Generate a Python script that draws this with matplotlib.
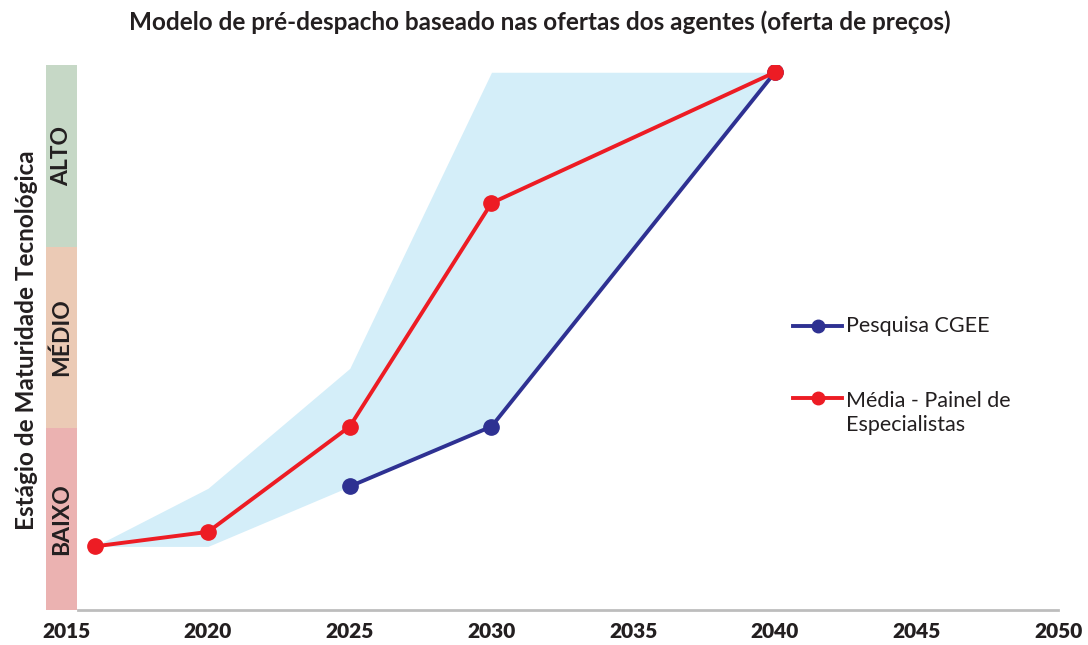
import matplotlib
matplotlib.use("Agg")
import matplotlib.pyplot as plt
from matplotlib.patches import Rectangle
from matplotlib.lines import Line2D
from matplotlib import transforms

# ---- data ----
years_red = [2016, 2020, 2025, 2030, 2040]
media_painel = [0.35, 0.43, 1.01, 2.24, 2.96]
years_blue = [2025, 2030, 2040]
pesquisa_cgee = [0.68, 1.01, 2.96]
band_years = [2016, 2020, 2025, 2030, 2040]
band_upper = [0.35, 0.67, 1.33, 2.96, 2.96]
band_lower = [0.35, 0.35, 0.68, 1.01, 2.96]
levels = ["BAIXO", "MÉDIO", "ALTO"]
level_colors = ["#EBB2B1", "#EBCAB5", "#C6D8C6"]
xticks = [2015, 2020, 2025, 2030, 2035, 2040, 2045, 2050]
series_names = ["Pesquisa CGEE", "Média - Painel de\nEspecialistas"]

RED = "#ED1C24"
BLUE = "#2E3192"
TXT = "#231F20"

plt.rcParams['font.family'] = ['Lato', 'DejaVu Sans']

fig = plt.figure(figsize=(10.88, 6.45), dpi=100)
W, H = 1088, 645
ax = fig.add_axes([66.25 / W, (H - 610) / H, 992.25 / W, 545 / H])
ax.set_xlim(2015, 2050)
ax.set_ylim(0, 3)

ax.fill_between(band_years, band_lower, band_upper, color="#D4EEF9", lw=0, zorder=1)
ax.plot(years_blue, pesquisa_cgee, color=BLUE, lw=2.8, marker="o", ms=11, zorder=3)
ax.plot(years_red, media_painel, color=RED, lw=2.8, marker="o", ms=11, zorder=4)

# maturity level bars
tr = transforms.blended_transform_factory(fig.transFigure, ax.transData)
for i, (lab, col) in enumerate(zip(levels, level_colors)):
    ax.add_patch(Rectangle((46 / W, i), 31 / W, 1, transform=tr, color=col,
                           lw=0, clip_on=False, zorder=5))
    ax.text(61.5 / W, i + 0.5, lab, transform=tr, rotation=90, ha="center",
            va="center", fontsize=16.5, fontweight="bold", color=TXT, zorder=6)

fig.text(27 / W, 1 - 340 / H, "Estágio de Maturidade Tecnológica", rotation=90,
         ha="center", va="center", fontsize=17.5, fontweight="bold", color=TXT)

for s in ["top", "right", "left"]:
    ax.spines[s].set_visible(False)
ax.spines["bottom"].set_color("#BDBDBD")
ax.spines["bottom"].set_linewidth(2)
ax.spines["bottom"].set_bounds(2015.4, 2050)
ax.set_yticks([])
ax.set_xticks(xticks)
ax.set_xticklabels([str(x) for x in xticks], fontsize=15, fontweight="heavy", color=TXT)
ax.tick_params(axis="x", length=0, pad=9)

fig.text(540 / W, 1 - 22 / H,
         "Modelo de pré-despacho baseado nas ofertas dos agentes (oferta de preços)",
         ha="center", va="center", fontsize=17.5, fontweight="bold", color=TXT)

# legend (manual, to match the layout)
for name, col, yc, ytxt in [(series_names[0], BLUE, 326, 326),
                            (series_names[1], RED, 398, 413)]:
    fig.add_artist(Line2D([793 / W, 842 / W], [1 - yc / H, 1 - yc / H],
                          transform=fig.transFigure, color=col, lw=2.8))
    fig.add_artist(Line2D([817.5 / W], [1 - yc / H], transform=fig.transFigure,
                          color=col, marker="o", ms=9))
    fig.text(846 / W, 1 - ytxt / H, name, ha="left", va="center",
             fontsize=15.5, color=TXT, linespacing=1.25)

fig.savefig("out.png", dpi=100)
